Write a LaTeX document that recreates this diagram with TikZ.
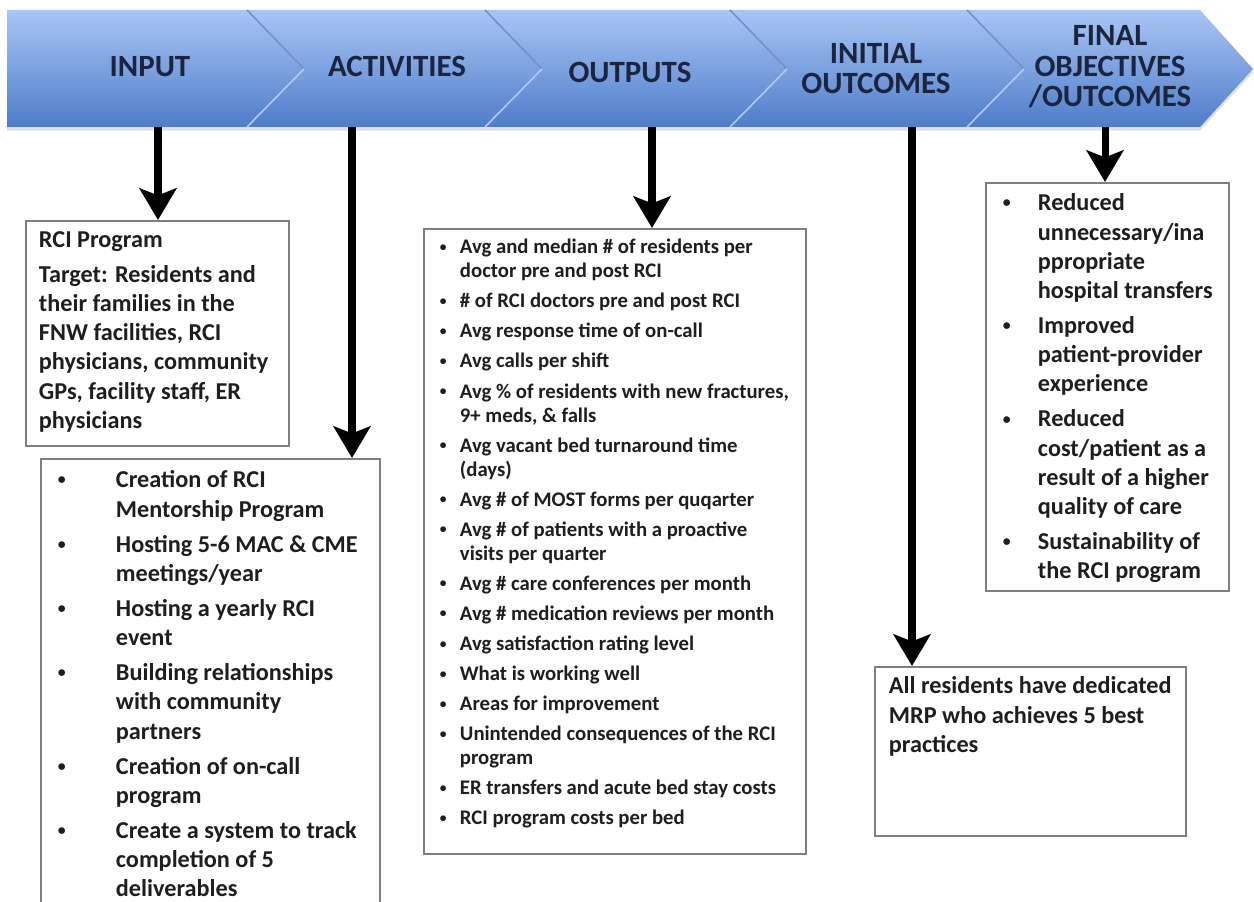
\documentclass[tikz,border=0pt]{standalone}
\usepackage{fontspec}
\setmainfont{Carlito}
\usetikzlibrary{positioning,shapes,shadows,arrows.meta}

\definecolor{bartop}{HTML}{A9C5F5}
\definecolor{barmid}{HTML}{8AAEEA}
\definecolor{barbot}{HTML}{4F7DC9}
\definecolor{headtxt}{HTML}{1B2540}
\definecolor{chevdark}{HTML}{7391C8}
\definecolor{chevlight}{HTML}{B4CAF1}
\definecolor{boxgray}{HTML}{7F7F7F}
\definecolor{bodytxt}{HTML}{1E1E1E}

\newlength{\bulhang}
\newcommand{\smallbul}{\raisebox{0.12em}{\scalebox{0.65}{\textbullet}}}
\newcommand{\litem}[1]{\par\hangindent=\bulhang\hangafter=1\noindent\strut\makebox[\bulhang][l]{\smallbul}#1}
\newcommand{\boxtext}[5]{\parbox[c][#2][t]{#1}{\leftskip=#3\relax\rightskip=0pt plus 1fil\relax\setlength{\parskip}{3.4pt}\vspace*{#4}#5\par}}

\begin{document}
\begin{tikzpicture}[x=0.02cm, y=-0.02cm,
    head/.style={font=\bfseries\fontsize{17.6}{17.4}\selectfont, text=headtxt, align=center, anchor=base, inner sep=0pt},
    box/.style={draw=boxgray, line width=1.1pt, fill=white, anchor=north west, inner sep=0pt, text=bodytxt, font=\bfseries\fontsize{13.8}{16.6}\selectfont},
    feed/.style={line width=4pt, -{Stealth[length=18pt, width=21pt, inset=4pt]}}]

  \useasboundingbox (0,0) rectangle (1254,902);

  % banner arrow
  \shade[top color=bartop, middle color=barmid, bottom color=barbot, drop shadow={shadow xshift=0pt, shadow yshift=-2pt, opacity=0.25}]
    (7,10) -- (1200,10) -- (1253,69) -- (1200,127) -- (7,127) -- cycle;
  \foreach \sx in {247,485,730,967} {
    \draw[chevdark, line width=0.9pt] (\sx,10) -- (\sx+57,69);
    \draw[chevlight, line width=0.9pt] (\sx+57,69) -- (\sx,127);
  }

  % base anchor sits on the last line
  \node[head] (h1) at (150,77) {INPUT};
  \node[head] (h2) at (397,77) {ACTIVITIES};
  \node[head] (h3) at (630,83) {OUTPUTS};
  \node[head] (h4) at (876,94) {INITIAL\\OUTCOMES};
  \node[head] (h5) at (1110,107) {FINAL\\OBJECTIVES\\/OUTCOMES};

  \coordinate (a1) at (158,127);
  \coordinate (a2) at (352,127);
  \coordinate (a3) at (652,127);
  \coordinate (a4) at (912,127);
  \coordinate (a5) at (1105,127);

  % boxes
  \node[box] (inp) at (25,220) {\boxtext{5.26cm}{4.5cm}{0.26cm}{0cm}{%
    \strut RCI Program\par
    \strut Target: Residents and\\ their families in the\\ FNW facilities, RCI\\ physicians, community\\ GPs, facility staff, ER\\ physicians}};

  \node[box] (act) at (40,458) {\boxtext{6.78cm}{9.3cm}{0.34cm}{0.05cm}{%
    \setlength{\bulhang}{1.16cm}%
    \litem{Creation of RCI\\ Mentorship Program}
    \litem{Hosting 5-6 MAC \& CME\\ meetings/year}
    \litem{Hosting a yearly RCI\\ event}
    \litem{Building relationships\\ with community\\ partners}
    \litem{Creation of on-call\\ program}
    \litem{Create a system to track\\ completion of 5\\ deliverables}}};

  \node[box, font=\bfseries\fontsize{11.8}{13.7}\selectfont] (outp) at (423,228) {\boxtext{7.64cm}{12.5cm}{0.32cm}{0.04cm}{%
    \setlength{\bulhang}{0.4cm}%
    \litem{Avg and median \# of residents per\\ doctor pre and post RCI}
    \litem{\# of RCI doctors pre and post RCI}
    \litem{Avg response time of on-call}
    \litem{Avg calls per shift}
    \litem{Avg \% of residents with new fractures,\\ 9+ meds, \& falls}
    \litem{Avg vacant bed turnaround time\\ (days)}
    \litem{Avg \# of MOST forms per quqarter}
    \litem{Avg \# of patients with a proactive\\ visits per quarter}
    \litem{Avg \# care conferences per month}
    \litem{Avg \# medication reviews per month}
    \litem{Avg satisfaction rating level}
    \litem{What is working well}
    \litem{Areas for improvement}
    \litem{Unintended consequences of the RCI\\ program}
    \litem{ER transfers and acute bed stay costs}
    \litem{RCI program costs per bed}}};

  \node[box] (fin) at (985,182) {\boxtext{4.86cm}{8.16cm}{0.34cm}{0.03cm}{%
    \setlength{\bulhang}{0.7cm}%
    \litem{Reduced\\ unnecessary/ina\\ ppropriate\\ hospital transfers}
    \litem{Improved\\ patient-provider\\ experience}
    \litem{Reduced\\ cost/patient as a\\ result of a higher\\ quality of care}
    \litem{Sustainability of\\ the RCI program}}};

  \node[box] (init) at (874,666) {\boxtext{6.22cm}{3.38cm}{0.28cm}{0.01cm}{%
    \strut All residents have dedicated\\ MRP who achieves 5 best\\ practices}};

  \draw[feed] (a1) -- (a1 |- inp.north);
  \draw[feed] (a2) -- (a2 |- act.north);
  \draw[feed] (a3) -- (a3 |- outp.north);
  \draw[feed] (a4) -- (a4 |- init.north);
  \draw[feed] (a5) -- (a5 |- fin.north);
\end{tikzpicture}
\end{document}
